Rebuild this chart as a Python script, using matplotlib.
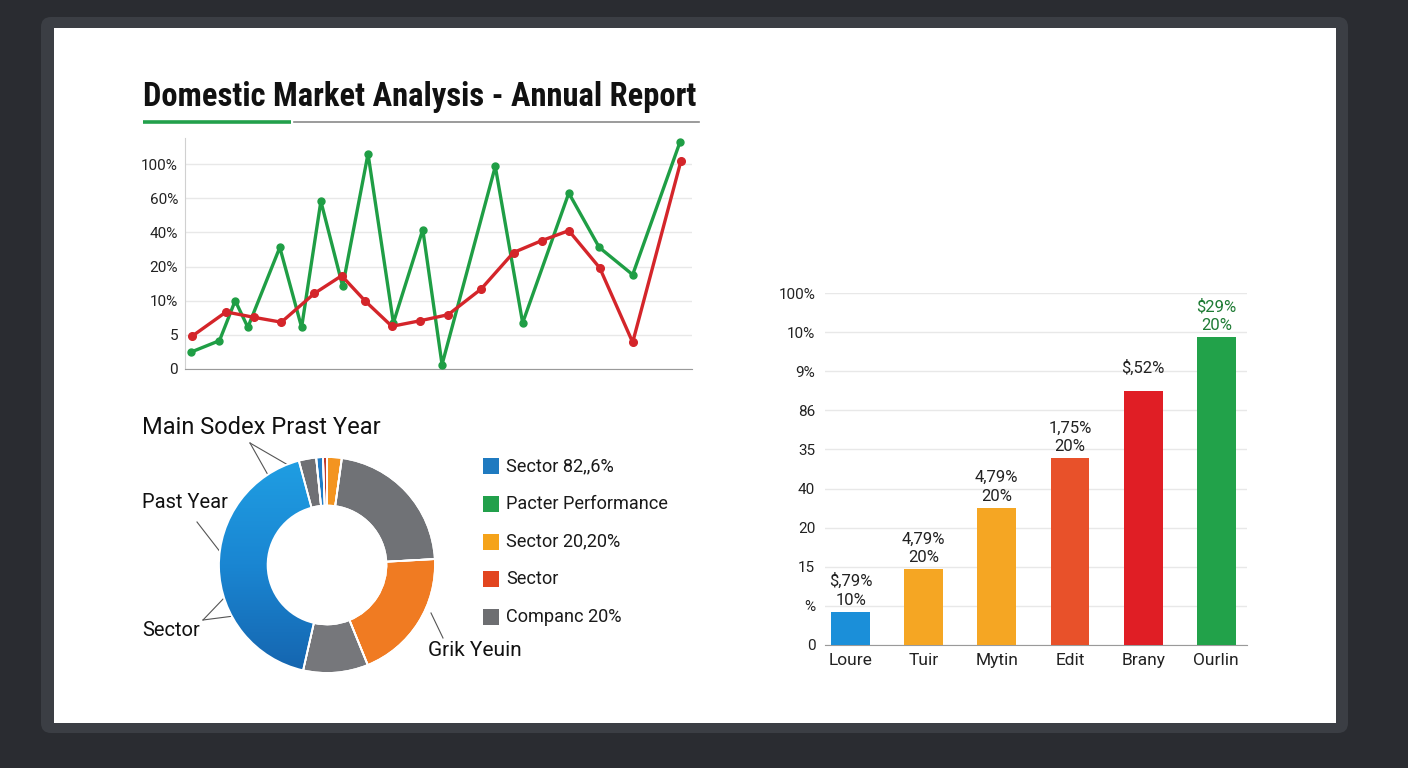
import matplotlib
matplotlib.use("Agg")
import matplotlib.pyplot as plt
import numpy as np
from matplotlib import font_manager as fm
from matplotlib.patches import FancyBboxPatch, Rectangle
from matplotlib.lines import Line2D
from matplotlib.colors import LinearSegmentedColormap

# ---------------- data ----------------
title = "Domestic Market Analysis - Annual Report"

line_y_labels = ["0", "5", "10%", "20%", "40%", "60%", "100%"]
green_x = [1.1, 6.8, 9.9, 12.4, 18.7, 23.0, 26.8, 31.1, 36.1, 41.1, 46.9, 50.7, 61.2, 66.6, 75.7, 81.7, 88.3, 97.6]
green_y = [0.49, 0.83, 2.0, 1.22, 3.56, 1.22, 4.91, 2.42, 6.30, 1.35, 4.08, 0.13, 5.93, 1.35, 5.15, 3.56, 2.76, 6.63]
red_x = [1.4, 8.1, 13.7, 19.0, 25.5, 30.9, 35.6, 40.8, 46.3, 51.9, 58.4, 64.8, 70.4, 75.7, 81.8, 88.3, 97.8]
red_y = [0.96, 1.67, 1.51, 1.37, 2.21, 2.73, 1.98, 1.25, 1.41, 1.59, 2.34, 3.41, 3.76, 4.05, 2.96, 0.78, 6.08]

donut_title = "Main Sodex Prast Year"
donut_values = [2.2, 21.9, 19.7, 9.7, 42.2, 2.6, 1.0, 0.6]
donut_colors = ["#f39420", "#707276", "#f07b22", "#76777b", "#1a82cf", "#6f7074", "#1f7cc7", "#c0392b"]
donut_callouts = ["Past Year", "Sector", "Grik Yeuin"]

legend_labels = ["Sector 82,,6%", "Pacter Performance", "Sector 20,20%", "Sector", "Companc 20%"]
legend_colors = ["#1f7ac0", "#22a04b", "#f5a31a", "#e2451f", "#6d6e71"]

bar_categories = ["Loure", "Tuir", "Mytin", "Edit", "Brany", "Ourlin"]
bar_values = [0.85, 1.94, 3.51, 4.77, 6.50, 7.87]
bar_colors = ["#1b8fd9", "#f5a623", "#f5a623", "#e8512a", "#e01e25", "#22a24a"]
bar_labels = ["$,79%\n10%", "4,79%\n20%", "4,79%\n20%", "1,75%\n20%", "$,52%", "$29%\n20%"]
bar_label_colors = ["#222222", "#222222", "#222222", "#222222", "#222222", "#1e7b34"]
bar_y_labels = ["0", "%", "15", "20", "40", "35", "86", "9%", "10%", "100%"]

# ---------------- fonts ----------------
def pick(cands):
    for c in cands:
        try:
            fm.findfont(fm.FontProperties(family=c), fallback_to_default=False)
            return c
        except Exception:
            pass
    return "DejaVu Sans"

FONT = pick(["Roboto", "Open Sans", "Lato", "DejaVu Sans"])
TFONT = pick(["Roboto Condensed", "Liberation Sans Narrow", "Roboto", "Lato"])
plt.rcParams["font.family"] = [FONT, "DejaVu Sans"]

W, H = 1408, 768
fig = plt.figure(figsize=(W / 100, H / 100), dpi=100)
fig.patch.set_facecolor("#2a2c31")

def rect(l, t, r, b):
    return [l / W, 1 - b / H, (r - l) / W, (b - t) / H]

# background pixel axes
bg = fig.add_axes([0, 0, 1, 1])
bg.set_xlim(0, W)
bg.set_ylim(H, 0)
bg.axis("off")
bg.add_patch(FancyBboxPatch((41, 17), 1307, 716, boxstyle="round,pad=0,rounding_size=10",
                            fc="#3b3e44", ec="none"))
bg.add_patch(Rectangle((54, 28), 1282, 695, fc="white", ec="none"))

# title
bg.text(143, 97, title, fontsize=23.5, fontweight="bold", family=[TFONT, "DejaVu Sans"],
        color="#111111", ha="left", va="center")
bg.add_line(Line2D([143, 291], [122, 122], color="#22a04b", lw=2.6, solid_capstyle="butt"))
bg.add_line(Line2D([294, 699], [122, 122], color="#8a8a8a", lw=1.2))

# ---------------- line chart ----------------
ax1 = fig.add_axes(rect(185, 138.4, 692, 369))
ax1.plot(green_x, green_y, color="#1f9e45", lw=2.4, marker="o", ms=5, zorder=3)
ax1.plot(red_x, red_y, color="#d4252a", lw=2.4, marker="o", ms=5.5, zorder=4)
ax1.set_xlim(0, 100)
ax1.set_ylim(0, 6.75)
ax1.set_yticks(range(len(line_y_labels)))
ax1.set_yticklabels(line_y_labels, fontsize=11, color="#222222")
ax1.set_xticks([])
ax1.tick_params(axis="y", length=0, pad=5)
ax1.grid(axis="y", color="#e8e8e8", lw=1)
ax1.set_axisbelow(True)
for s in ["top", "right"]:
    ax1.spines[s].set_visible(False)
ax1.spines["left"].set_color("#d0d0d0")
ax1.spines["bottom"].set_color("#9a9a9a")
ax1.patch.set_alpha(0)

# ---------------- donut ----------------
cx, cy, R = 327, 565, 108
half = 1.25 * R
axd = fig.add_axes(rect(cx - half, cy - half, cx + half, cy + half))
wedges, _ = axd.pie(donut_values, colors=donut_colors, startangle=90, counterclock=False,
                    wedgeprops=dict(width=0.45, edgecolor="white", linewidth=1.3))
# vertical shading on the big blue wedge
big = int(np.argmax(donut_values))
cmap = LinearSegmentedColormap.from_list("bl", ["#1563ad", "#1a86d2", "#20a0e4"])
grad = np.linspace(0, 1, 256).reshape(-1, 1)
im = axd.imshow(grad, cmap=cmap, extent=(-1.05, 1.05, -1.05, 1.05), origin="lower",
                aspect="auto", zorder=2)
im.set_clip_path(wedges[big])
for w in wedges:
    w.set_zorder(1)
# white separators on top of the shaded wedge
axd.pie(donut_values, colors=["none"] * len(donut_values), startangle=90, counterclock=False,
        wedgeprops=dict(width=0.45, edgecolor="white", linewidth=1.3, zorder=5))
axd.set_xlim(-1.25, 1.25)
axd.set_ylim(-1.25, 1.25)
axd.set_aspect("equal")
axd.axis("off")

bg.text(142, 428, donut_title, fontsize=17, color="#111111", ha="left", va="center")
bg.text(142, 503, donut_callouts[0], fontsize=14.5, color="#111111", ha="left", va="center")
bg.text(142, 631, donut_callouts[1], fontsize=14.5, color="#111111", ha="left", va="center")
bg.text(428, 651, donut_callouts[2], fontsize=15, color="#111111", ha="left", va="center")
lc = "#555555"
for seg in [([250, 288], [443, 465]), ([250, 268], [443, 475]),
            ([197, 221], [522, 553]),
            ([203, 225], [620, 597]), ([203, 234], [620, 616]),
            ([431, 443], [613, 638])]:
    bg.add_line(Line2D(seg[0], seg[1], color=lc, lw=0.8))

# legend
for i, (lab, col) in enumerate(zip(legend_labels, legend_colors)):
    y = 466 + i * 37.8
    bg.add_patch(Rectangle((483, y - 8), 16, 16, fc=col, ec="none"))
    bg.text(506, y, lab, fontsize=13.1, color="#1a1a1a", ha="left", va="center")

# ---------------- bar chart ----------------
ax2 = fig.add_axes(rect(825, 293, 1247, 645))
xs = list(range(len(bar_categories)))
ax2.bar(xs, bar_values, width=0.53, color=bar_colors, zorder=3)
ax2.set_xlim(-0.35, len(xs) - 1 + 0.42)
ax2.set_ylim(0, 9)
ax2.set_yticks(range(len(bar_y_labels)))
ax2.set_yticklabels(bar_y_labels, fontsize=11, color="#222222")
ax2.set_xticks(xs)
ax2.set_xticklabels(bar_categories, fontsize=12.5, color="#222222")
ax2.tick_params(axis="both", length=0)
ax2.tick_params(axis="y", pad=7)
ax2.tick_params(axis="x", pad=6)
ax2.grid(axis="y", color="#e8e8e8", lw=1)
ax2.set_axisbelow(True)
for s in ["top", "right", "left"]:
    ax2.spines[s].set_visible(False)
ax2.spines["bottom"].set_color("#9a9a9a")
ax2.patch.set_alpha(0)
for x, v, lab, c in zip(xs, bar_values, bar_labels, bar_label_colors):
    off = 3 if "\n" in lab else 11
    ax2.annotate(lab, xy=(x, v), xytext=(0, off), textcoords="offset points",
                 ha="center", va="bottom", fontsize=12, color=c, linespacing=1.3,
                 annotation_clip=False)

fig.savefig("out.png", dpi=100, facecolor=fig.get_facecolor())
